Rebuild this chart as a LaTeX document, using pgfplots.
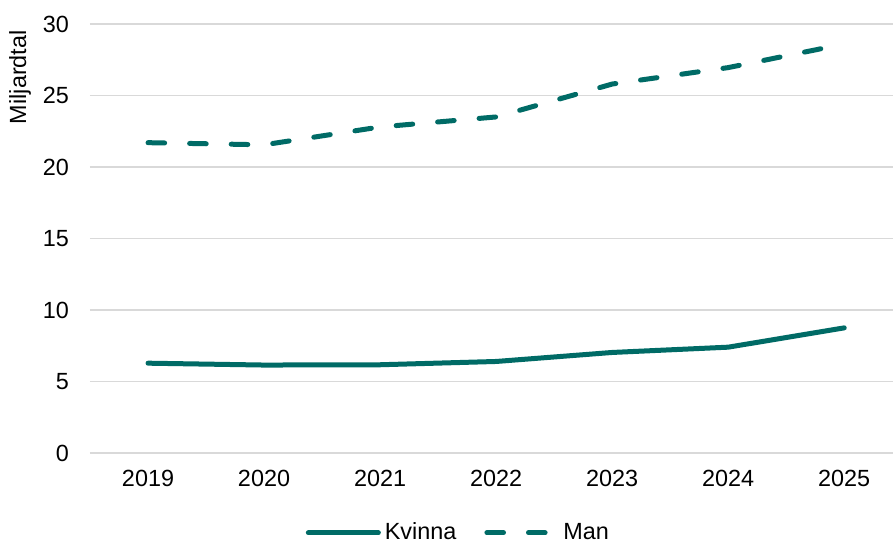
\documentclass[border=0pt]{standalone}
\usepackage{pgfplots}
\pgfplotsset{compat=1.18}
\usepackage{fontspec}
\setmainfont{Liberation Sans}
\usetikzlibrary{calc}
\definecolor{teal1}{HTML}{006B66}
\definecolor{gridgray}{HTML}{D9D9D9}

\begin{document}
\begin{tikzpicture}
\begin{axis}[
  name=ax,
  scale only axis,
  width=401.5pt, height=214.5pt,
  xmin=2018.5, xmax=2025.42,
  ymin=0, ymax=30,
  xtick={2019,...,2025},
  ytick={0,5,...,30},
  xticklabel style={/pgf/number format/1000 sep={}},
  /pgf/number format/assume math mode=true,
  tick label style={font=\fontsize{11.7}{14}\selectfont, text=black},
  yticklabel style={xshift=-7pt},
  xticklabel style={yshift=-5pt},
  major tick length=0pt,
  axis line style={draw=none},
  ymajorgrids,
  grid style={gridgray, line width=0.75pt},
  legend style={
    at={(rel axis cs:0.46,-0.186)}, anchor=center,
    draw=none, fill=none,
    font=\fontsize{11.7}{14}\selectfont,
    legend columns=2,
    /tikz/every even column/.append style={column sep=12pt},
  },
  legend image code/.code={
    \draw[#1] (0pt,0pt) -- (35pt,0pt);
  },
]
\addplot[teal1, line width=2.5pt, line cap=round, line join=round]
  coordinates {(2019,6.28) (2020,6.15) (2021,6.17) (2022,6.40) (2023,7.03) (2024,7.40) (2025,8.75)};
\addlegendentry{Kvinna}
\addplot[teal1, line width=2.5pt, line cap=round, line join=round, dash pattern=on 8.3pt off 12.5pt]
  coordinates {(2019,21.70) (2020,21.55) (2021,22.80) (2022,23.50) (2023,25.80) (2024,26.95) (2025,28.60)};
\addlegendentry{Man}
\end{axis}
% y-axis title, set beside the top of the axis
\node[rotate=90, anchor=east, font=\fontsize{11.7}{14}\selectfont, inner sep=0pt]
  at ($(ax.north west)+(-35pt,-3pt)$) {Miljardtal};
\pgfresetboundingbox
\path[use as bounding box] ($(ax.south west)+(-45pt,-45pt)$) rectangle ($(ax.north east)+(0pt,12pt)$);
\end{tikzpicture}
\end{document}
